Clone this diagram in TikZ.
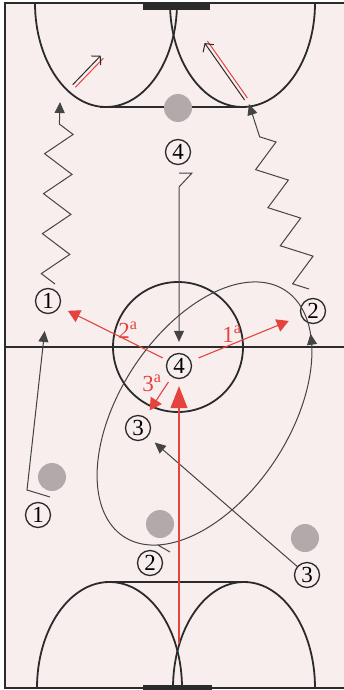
\documentclass[tikz,border=0pt]{standalone}
\usepackage{fontspec}
\setmainfont{Liberation Serif}
\usetikzlibrary{arrows.meta,calc,decorations.pathmorphing}
\definecolor{rink}{HTML}{F8EEEE}
\definecolor{ink}{HTML}{2B2B2B}
\definecolor{skater}{HTML}{444444}
\definecolor{passred}{HTML}{E4433E}
\definecolor{puckgray}{HTML}{B3A9AB}
\tikzset{
  % rink markings (boards, lines, goal areas)
  rinkline/.style={draw=ink, line width=1.8pt},
  % circled player number
  player/.style={circle, draw=ink, line width=1.3pt, fill=rink,
    minimum size=25pt, inner sep=0pt, font=\fontsize{23}{23}\selectfont},
  % skating path, arrow at the end
  skate/.style={draw=skater, line width=1pt,
    -{Triangle[length=11pt,width=10pt]}},
  zig/.style={decorate, decoration={zigzag, segment length=40pt,
    amplitude=14pt, post length=18pt}},
  % pass (red, filled tip)
  pass/.style={draw=passred, line width=1.1pt,
    -{Triangle[length=12pt,width=13pt]}},
  % shot: black + red double line
  shotblk/.style={draw=ink, line width=1pt,
    -{Straight Barb[length=6pt,width=13pt]}},
  shotred/.style={draw=passred, line width=1pt},
  lbl/.style={text=passred, font=\fontsize{23}{23}\selectfont, inner sep=0pt},
  blob/.style={fill=puckgray},
}
\newcommand{\plr}[3]{%
  \node[player] (#1) at (#2) {#3};}

\begin{document}
\begin{tikzpicture}[x=1pt,y=-1pt]
\useasboundingbox (0,0) rectangle (344,690);
\fill[white] (0,0) rectangle (344,690);
\fill[rink] (5,3) rectangle (344,688);

% ----- rink -----
\draw[ink, line width=2.2pt] (344,3) -- (5,3) -- (5,688) -- (344,688);
\fill[ink] (143,3) rectangle (210,10);
\fill[ink] (143,685) rectangle (212,690);
\draw[rinkline] (5,347) -- (344,347);
\draw[rinkline] (178,347) circle[radius=65pt];
% top goal area
\draw[rinkline] (35,3) arc[start angle=180, end angle=360, x radius=71pt, y radius=104pt];
\draw[rinkline] (170,3) arc[start angle=180, end angle=360, x radius=72.5pt, y radius=104pt];
\draw[rinkline] (100,107) -- (246,107);
% bottom goal area
\draw[rinkline] (37,688) arc[start angle=180, end angle=0, x radius=72.5pt, y radius=106pt];
\draw[rinkline] (173,688) arc[start angle=180, end angle=0, x radius=71pt, y radius=106pt];
\draw[rinkline] (105,582) -- (240,582);

% ----- players -----
\plr{fourstart}{178,152}{4}
\plr{one}{48,301}{1}
\plr{two}{313,311}{2}
\plr{four}{179,366}{4}
\plr{three}{138,428}{3}
\plr{onestart}{38,515}{1}
\plr{twostart}{150,563}{2}
\plr{threestart}{307,575}{3}

% ----- free ends -----
\coordinate (onehook) at (50,497);
\coordinate (onefrom) at (27,490);
\coordinate (fourhook) at (179,173);
\coordinate (fourbend) at (192,173);
\coordinate (fourdrop) at (179,187);
\coordinate (twohook) at (170,552);
\coordinate (zigone) at (55,284);
\coordinate (zigonetip) at (60,102);
\coordinate (zigtwo) at (309,289);
\coordinate (zigtwotip) at (249,104);
\coordinate (shotfrom) at (179,643);
\coordinate (shotonea) at (74,86);
\coordinate (shotoneb) at (102,57);
\coordinate (shottwoa) at (246,99);
\coordinate (shottwob) at (206,42);

% ----- skating -----
\draw[skate, shorten >=17pt] (onehook) -- (onefrom) -- (one);
\draw[skate, shorten >=11pt] (fourhook) -- (fourbend) -- (fourdrop) -- (four);
\draw[skate, shorten >=9pt] (threestart) -- (three);
\draw[skate] (twohook) -- plot[domain=-157:328, samples=200]
  ({204.5+80.8*cos(\x)-70.8*sin(\x)}, {413.5-123.1*cos(\x)-46.5*sin(\x)});
\draw[skate, zig] (zigone) -- (zigonetip);
\draw[skate, zig] (zigtwo) -- (zigtwotip);

% ----- shots -----
\draw[shotred, transform canvas={shift={(1.3pt,-1.3pt)}}] (shotonea) -- (shotoneb);
\draw[shotblk, transform canvas={shift={(-1.3pt,1.3pt)}}] (shotonea) -- (shotoneb);
\draw[shotred, transform canvas={shift={(1.4pt,1pt)}}] (shottwoa) -- (shottwob);
\draw[shotblk, transform canvas={shift={(-1.4pt,-1pt)}}] (shottwoa) -- (shottwob);

% ----- pucks / defenders -----
\fill[blob] (178,108) circle[radius=14pt];
\fill[blob] (52,477) circle[radius=14pt];
\fill[blob] (160,524) circle[radius=14pt];
\fill[blob] (305,538) circle[radius=14pt];

% ----- passes -----
\draw[pass, shorten <=8pt, shorten >=13pt] (four) -- (two);
\draw[pass, shorten <=5pt, shorten >=9pt] (four) -- (one);
\draw[pass, shorten <=6pt, shorten >=8pt] (four) -- (three);
\draw[draw=passred, line width=1.1pt, -{Triangle[length=22pt,width=17pt]},
  shorten >=7pt] (shotfrom) -- (four);
\node[lbl] (firstlbl) at (232,334) {1\textsuperscript{a}};
\node[lbl] (secondlbl) at (128,330) {2\textsuperscript{a}};
\node[lbl] (thirdlbl) at (152,383) {3\textsuperscript{a}};

\end{tikzpicture}
\end{document}
